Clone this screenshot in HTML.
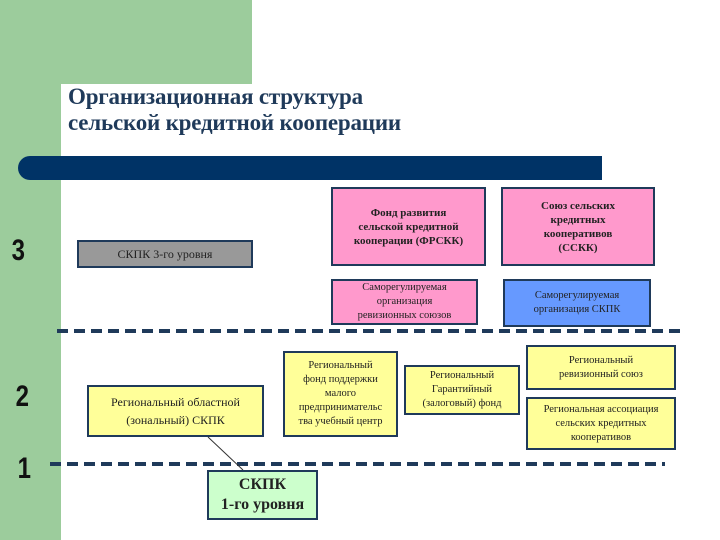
<!DOCTYPE html>
<html><head><meta charset="utf-8"><style>
body{margin:0;width:720px;height:540px;position:relative;overflow:hidden;background:#fff;font-family:"Liberation Serif",serif}
.a{position:absolute}
.box{position:absolute;box-sizing:border-box;border:2px solid #1f3a5a;display:flex;align-items:center;justify-content:center;text-align:center;font-size:10.5px;line-height:14px;color:#222}
.num{position:absolute;font-family:"Liberation Sans",sans-serif;font-weight:bold;font-size:30px;color:#111;transform:scaleX(0.8)}
</style></head><body>
<div class="a" style="left:0;top:0;width:252px;height:84px;background:#9ccc9c"></div>
<div class="a" style="left:0;top:0;width:61px;height:540px;background:#9ccc9c"></div>
<div class="a" style="left:61px;top:84px;width:40px;height:40px;background:#fff;border-top-left-radius:24px"></div>
<div class="a" style="left:68px;top:84px;font-size:23px;font-weight:bold;color:#1f3a5a;line-height:26px;letter-spacing:-0.2px">Организационная структура<br>сельской кредитной кооперации</div>
<div class="a" style="left:18px;top:156px;width:584px;height:24px;background:#003366;border-radius:12px 0 0 12px"></div>
<div class="num" style="left:10px;top:234px">3</div>
<div class="num" style="left:14px;top:380px">2</div>
<div class="num" style="left:16px;top:452px">1</div>
<div class="box" style="left:331px;top:187px;width:155px;height:79px;background:#ff99cc;font-weight:bold;font-size:11px">Фонд развития<br>сельской кредитной<br>кооперации (ФРСКК)</div>
<div class="box" style="left:501px;top:187px;width:154px;height:79px;background:#ff99cc;font-weight:bold;font-size:11px">Союз сельских<br>кредитных<br>кооперативов<br>(ССКК)</div>
<div class="box" style="left:77px;top:240px;width:176px;height:28px;background:#999;font-size:12px">СКПК 3-го уровня</div>
<div class="box" style="left:331px;top:279px;width:147px;height:46px;background:#ff99cc">Саморегулируемая<br>организация<br>ревизионных союзов</div>
<div class="box" style="left:503px;top:279px;width:148px;height:48px;background:#6699ff">Саморегулируемая<br>организация СКПК</div>
<div class="box" style="left:87px;top:385px;width:177px;height:52px;background:#ffff99;font-size:12px;line-height:18px">Региональный областной<br>(зональный) СКПК</div>
<div class="box" style="left:283px;top:351px;width:115px;height:86px;background:#ffff99">Региональный<br>фонд поддержки<br>малого<br>предпринимательс<br>тва учебный центр</div>
<div class="box" style="left:404px;top:365px;width:116px;height:50px;background:#ffff99">Региональный<br>Гарантийный<br>(залоговый) фонд</div>
<div class="box" style="left:526px;top:345px;width:150px;height:45px;background:#ffff99">Региональный<br>ревизионный союз</div>
<div class="box" style="left:526px;top:397px;width:150px;height:53px;background:#ffff99">Региональная ассоциация<br>сельских кредитных<br>кооперативов</div>
<svg class="a" style="left:0;top:0" width="720" height="540">
<line x1="57" y1="331" x2="680" y2="331" stroke="#1f3a5a" stroke-width="4" stroke-dasharray="11,6"/>
<line x1="50" y1="464" x2="665" y2="464" stroke="#1f3a5a" stroke-width="4" stroke-dasharray="11,6"/>
<line x1="208" y1="437" x2="243" y2="470" stroke="#333" stroke-width="1"/></svg>
<div class="box" style="left:207px;top:470px;width:111px;height:50px;background:#ccffcc;font-weight:bold;font-size:16px;line-height:20px">СКПК<br>1-го уровня</div>
</body></html>
